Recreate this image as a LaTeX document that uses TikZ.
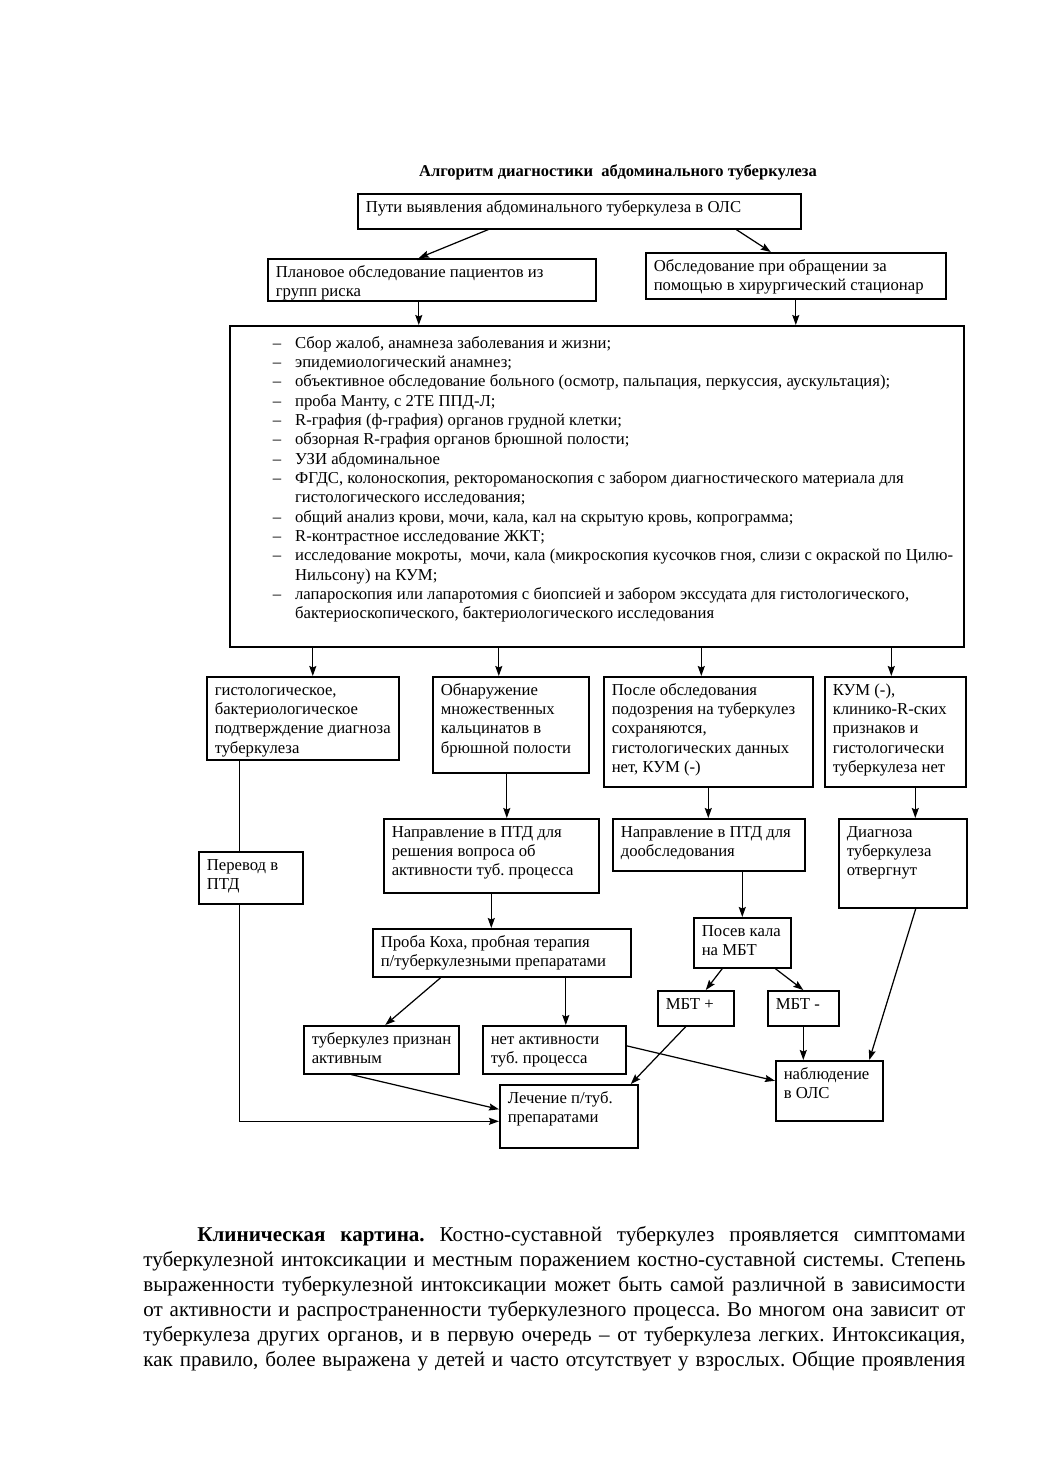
\documentclass[tikz,border=0pt]{standalone}
\usepackage{fontspec}
\setmainfont{Liberation Serif}
\usepackage{tikz}
\usetikzlibrary{positioning,arrows.meta,calc}

\newdimen\dpx \dpx=0.02cm
\newcommand\boxfont{\fontsize{9.5}{11}\selectfont}
% text cell: width, height (in px of the page), lines
\newcommand\cell[3]{\parbox[t][\dimexpr#2\dpx-10\dpx\relax][t]{\dimexpr#1\dpx-16\dpx\relax}{%
  \begin{tabular}[t]{@{}l@{}}#3\end{tabular}}}
\frenchspacing

\begin{document}
\begin{tikzpicture}[x=0.02cm, y=-0.02cm,
  box/.style={draw, line width=0.9pt, anchor=north west, inner xsep=0.16cm, inner ysep=0.1cm, font=\boxfont},
  arr/.style={-{Stealth[length=2mm, width=1.4mm, inset=0.3mm]}, line width=0.7pt},
  ln/.style={line width=0.7pt}]
\path[fill=white] (0,0) rectangle (1039,1471);
\useasboundingbox (0,0) rectangle (1039,1471);

\node[font=\fontsize{9.4}{11}\selectfont\bfseries] (ttl) at (618,172) {Алгоритм диагностики\ \ абдоминального туберкулеза};

% upper part
\foreach \n/\x/\y/\w/\h/\l in {
  top/357/193/443/35/{Пути выявления абдоминального туберкулеза в ОЛС},
  plan/267/258/328/42/{Плановое обследование пациентов из\\групп риска},
  surg/645/252/300/46/{Обследование при обращении за\\помощью в хирургический стационар}}
  \node[box] (\n) at (\x,\y) {\cell{\w}{\h}{\l}};

\node[box] (big) at (229,325) {\parbox[t][311\dpx][t]{718\dpx}{\vspace*{4\dpx}%
  \begin{tabular}[t]{@{\hspace{35\dpx}}l@{\hspace{14\dpx}}l@{}}
  – & Сбор жалоб, анамнеза заболевания и жизни;\\
  – & эпидемиологический анамнез;\\
  – & объективное обследование больного (осмотр, пальпация, перкуссия, аускультация);\\
  – & проба Манту, с 2ТЕ ППД-Л;\\
  – & R-графия (ф-графия) органов грудной клетки;\\
  – & обзорная R-графия органов брюшной полости;\\
  – & УЗИ абдоминальное\\
  – & ФГДС, колоноскопия, ректороманоскопия с забором диагностического материала для\\
    & гистологического исследования;\\
  – & общий анализ крови, мочи, кала, кал на скрытую кровь, копрограмма;\\
  – & R-контрастное исследование ЖКТ;\\
  – & исследование мокроты,\ \ мочи, кала (микроскопия кусочков гноя, слизи с окраской по Цилю-\\
    & Нильсону) на КУМ;\\
  – & лапароскопия или лапаротомия с биопсией и забором экссудата для гистологического,\\
    & бактериоскопического, бактериологического исследования
  \end{tabular}}};

% lower part
\foreach \n/\x/\y/\w/\h/\l in {
  a/206/676/192/83/{гистологическое,\\бактериологическое\\подтверждение диагноза\\туберкулеза},
  b/432/676/156/96/{Обнаружение\\множественных\\кальцинатов в\\брюшной полости},
  c/603/676/209/110/{После обследования\\подозрения на туберкулез\\сохраняются,\\гистологических данных\\нет, КУМ (-)},
  d/824/676/141/110/{КУМ (-),\\клинико-R-ских\\признаков и\\гистологически\\туберкулеза нет},
  pe/198/851/104/52/{Перевод в\\ПТД},
  n1/383/818/215/74/{Направление в ПТД для\\решения вопроса об\\активности туб. процесса},
  n2/612/818/192/52/{Направление в ПТД для\\дообследования},
  dg/838/818/128/89/{Диагноза\\туберкулеза\\отвергнут},
  pk/372/928/258/48/{Проба Коха, пробная терапия\\п/туберкулезными препаратами},
  ps/693/917/97/50/{Посев кала\\на МБТ},
  mp/657/990/76/35/{МБТ +},
  mm/767/990/71/35/{МБТ -},
  ta/303/1025/155/48/{туберкулез признан\\активным},
  na/482/1025/143/48/{нет активности\\туб. процесса},
  le/499/1084/138/63/{Лечение п/туб.\\препаратами},
  nb/775/1060/107/60/{наблюдение\\в ОЛС}}
  \node[box] (\n) at (\x,\y) {\cell{\w}{\h}{\l}};

% connectors
\draw[arr] ($(top.south)+(-91,0)$) -- ($(plan.north)+(-13,0)$);
\draw[arr] ($(top.south)+(157,0)$) -- ($(surg.north)+(-25,0)$);
\coordinate (pl) at ($(plan.south)+(-13,0)$);
\draw[arr] (pl) -- (pl |- big.north);
\draw[arr] (surg.south) -- (surg.south |- big.north);
\foreach \n/\dx in {a/10, b/-12, c/-7, d/-4} {
  \coordinate (e) at ($(\n.north)+(\dx,0)$);
  \draw[arr] (e |- big.south) -- (e);
}
\coordinate (ap) at ($(a.south)+(-63,0)$);
\draw[ln] (ap) -- (ap |- pe.north);
\draw[arr] (ap |- pe.south) |- ($(le.west)+(0,5)$);
\coordinate (bp) at ($(b.south)+(-4,0)$);
\draw[arr] (bp) -- (bp |- n1.north);
\draw[arr] (c.south) -- (c.south |- n2.north);
\coordinate (dp) at ($(d.south)+(20,0)$);
\draw[arr] (dp) -- (dp |- dg.north);
\draw[arr] (n1.south) -- (n1.south |- pk.north);
\draw[arr] (ps.north |- n2.south) -- (ps.north);
\draw[arr] ($(pk.south)+(-61,0)$) -- ($(ta.north)+(4,0)$);
\coordinate (kp) at ($(pk.south)+(64,0)$);
\draw[arr] (kp) -- (kp |- na.north);
\draw[arr] ($(ps.south)+(-20,0)$) -- ($(mp.north)+(10,0)$);
\draw[arr] ($(ps.south)+(33,0)$) -- (mm.north);
\draw[arr] ($(mp.south)+(-10,0)$) -- ($(le.north)+(62,0)$);
\draw[arr] (mm.south) -- (mm.south |- nb.north);
\draw[arr] ($(dg.south)+(13,0)$) -- ($(nb.north)+(40,0)$);
\draw[arr] ($(na.east)+(0,-4)$) -- ($(nb.west)+(0,-10)$);
\draw[arr] ($(ta.south)+(-30,0)$) -- ($(le.west)+(0,-7)$);

% text below the scheme
\node[anchor=north west, inner sep=0pt, align=left, font=\fontsize{12}{14.2}\selectfont] (txt) at (143,1226) {%
  \makebox[822\dpx][s]{\hspace*{54\dpx}\textbf{Клиническая картина.} Костно-суставной туберкулез проявляется симптомами}\\
  \makebox[822\dpx][s]{туберкулезной интоксикации и местным поражением костно-суставной системы. Степень}\\
  \makebox[822\dpx][s]{выраженности туберкулезной интоксикации может быть самой различной в зависимости}\\
  \makebox[822\dpx][s]{от активности и распространенности туберкулезного процесса. Во многом она зависит от}\\
  \makebox[822\dpx][s]{туберкулеза других органов, и в первую очередь – от туберкулеза легких. Интоксикация,}\\
  \makebox[822\dpx][s]{как правило, более выражена у детей и часто отсутствует у взрослых. Общие проявления}};
\end{tikzpicture}
\end{document}
